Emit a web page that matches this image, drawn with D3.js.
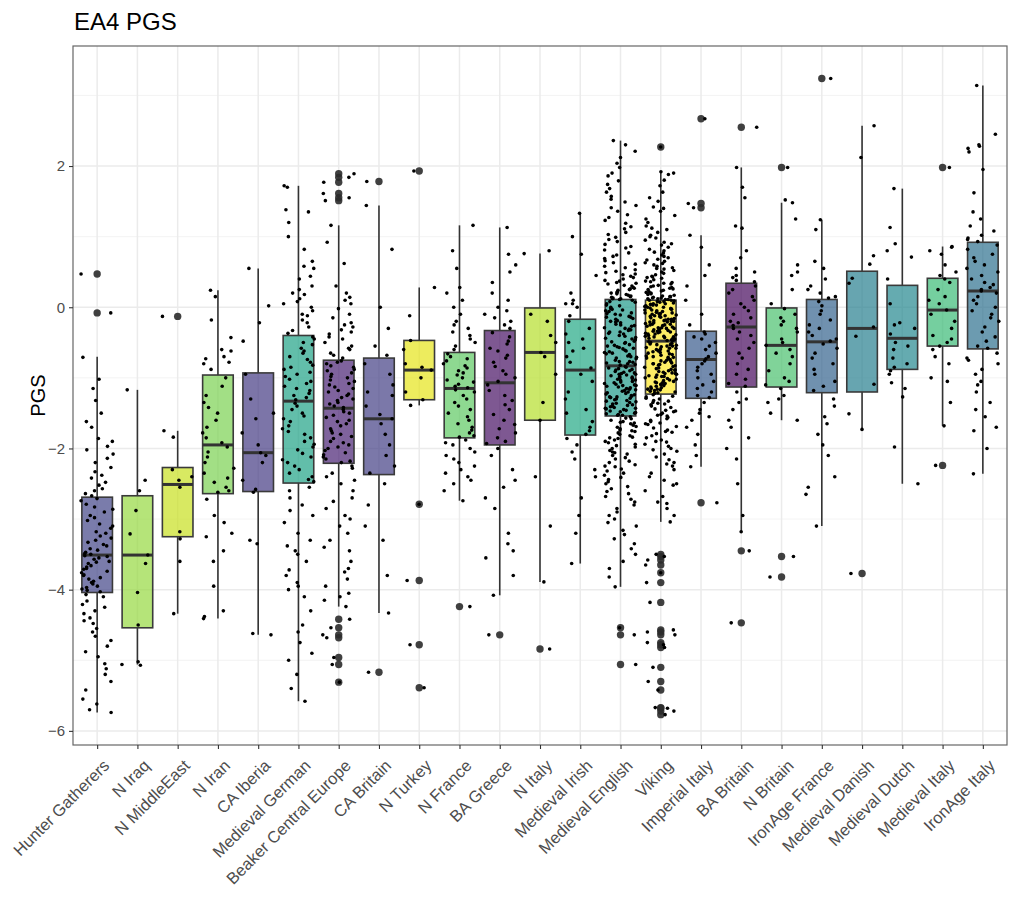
<!DOCTYPE html>
<html>
<head>
<meta charset="utf-8">
<script src="https://cdn.jsdelivr.net/npm/d3@7"></script>
<style>
  body { margin: 0; background: #fff; }
  text { font-family: "Liberation Sans", Arial, Helvetica, sans-serif; }
</style>
</head>
<body>
<div id="chart"></div>
<script>
// Groups in plotting order
const groups = ["Hunter Gatherers", "N Iraq", "N MiddleEast", "N Iran", "CA Iberia", "Medieval German",
  "Beaker Central Europe", "CA Britain", "N Turkey", "N France", "BA Greece", "N Italy", "Medieval Irish",
  "Medieval English", "Viking", "Imperial Italy", "BA Britain", "N Britain", "IronAge France",
  "Medieval Danish", "Medieval Dutch", "Medieval Italy", "IronAge Italy"];

// Box colours (viridis, drawn with alpha)
const boxColors = ["#414487", "#95d840", "#c8e020", "#7ad151", "#443a83", "#20a386", "#482173", "#433e85",
  "#e5e419", "#5ec962", "#471164", "#b5de2b", "#22a884", "#1f9a8a", "#fde725", "#375a8c", "#46085c",
  "#4ac16d", "#33638d", "#277f8e", "#24878e", "#3aba76", "#2d708e"];

// Box statistics
const upperHinge = [-2.69, -2.67, -2.27, -0.96, -0.93, -0.40, -0.75, -0.72, -0.47, -0.64, -0.33, -0.01, -0.17,
  0.11, 0.10, -0.34, 0.34, -0.01, 0.11, 0.51, 0.31, 0.41, 0.92];
const medians = [-3.51, -3.51, -2.51, -1.95, -2.06, -1.33, -1.43, -1.58, -0.89, -1.15, -1.07, -0.64, -0.89,
  -0.83, -0.48, -0.74, -0.28, -0.54, -0.49, -0.30, -0.44, -0.04, 0.23];
const lowerHinge = [-4.04, -4.54, -3.25, -2.64, -2.61, -2.49, -2.21, -2.37, -1.31, -1.85, -1.95, -1.60, -1.81,
  -1.54, -1.23, -1.29, -1.13, -1.13, -1.21, -1.20, -0.88, -0.55, -0.59];
const whiskerHigh = [-0.70, -1.17, -1.75, 0.24, 0.55, 1.72, 1.16, 1.44, 0.28, 1.16, 1.13, 0.76, 1.33,
  2.36, 1.92, 1.02, 1.98, 1.48, 1.24, 2.57, 1.68, 0.86, 3.14];
const whiskerLow = [-5.74, -5.06, -4.34, -4.41, -4.64, -5.58, -4.24, -4.33, -1.39, -2.74, -4.08, -3.89, -3.63,
  -3.96, -3.04, -2.26, -3.18, -1.60, -3.10, -1.71, -2.50, -1.68, -2.36];

// Outliers per group
const outliers = [
  [0.47, -0.08], [], [-0.13], [], [], [],
  [1.89, 1.84, 1.77, 1.61, 1.55, 1.51, -4.42, -4.54, -4.64, -4.68, -4.96, -5.06, -5.31],
  [1.78, -5.17], [1.93, -2.79, -3.87, -4.78, -5.39], [-4.24], [-4.64], [-4.84], [],
  [-4.54, -4.64, -5.06],
  [2.27, -3.5, -3.53, -3.58, -3.65, -3.76, -3.9, -4.18, -4.57, -4.6, -4.64, -4.75, -4.78, -4.82, -5.1, -5.3, -5.42, -5.67, -5.68, -5.72, -5.77],
  [2.67, 1.47, 1.41, -2.77], [2.55, -3.45, -4.47], [1.98, -3.53, -3.82], [3.24], [-3.77], [],
  [1.98, -2.24], []
];

// Individual PGS values (jittered points)
const hunterGatherers = [0.47, -0.08, -0.71, -1.02, -1.15, -1.32, -1.5, -1.62, -1.7, -1.86, -1.9, -1.97, -2.02, -2.08,
  -2.14, -2.2, -2.27, -2.33, -2.38, -2.42, -2.48, -2.52, -2.57, -2.6, -2.64, -2.67, -2.71, -2.74, -2.79, -2.83, -2.86,
  -2.9, -2.95, -2.98, -3.02, -3.07, -3.1, -3.13, -3.18, -3.2, -3.24, -3.27, -3.3, -3.33, -3.36, -3.38, -3.42, -3.44,
  -3.47, -3.49, -3.5, -3.52, -3.53, -3.55, -3.57, -3.6, -3.61, -3.63, -3.66, -3.68, -3.7, -3.71, -3.74, -3.76, -3.79,
  -3.8, -3.83, -3.85, -3.88, -3.9, -3.92, -3.95, -3.97, -3.99, -4.01, -4.03, -4.07, -4.1, -4.16, -4.21, -4.25, -4.3,
  -4.34, -4.4, -4.44, -4.48, -4.55, -4.6, -4.66, -4.72, -4.8, -4.88, -4.95, -5.05, -5.12, -5.2, -5.3, -5.42, -5.55,
  -5.62, -5.7, -5.74];
const nIraq = [-1.17, -2.45, -2.6, -2.88, -3.21, -3.51, -3.63, -4.04, -4.5, -5.02, -5.06, -5.07];
const nMiddleEast = [-0.13, -1.75, -1.84, -2.3, -2.4, -2.45, -2.55, -3.18, -3.28, -3.6, -4.34];
const nIran = [0.24, 0.15, -0.18, -0.43, -0.6, -0.62, -0.7, -0.73, -0.78, -0.8, -0.88, -1.0, -1.12, -1.25, -1.35, -1.42,
  -1.5, -1.6, -1.7, -1.78, -1.85, -1.92, -1.98, -2.05, -2.12, -2.2, -2.28, -2.35, -2.42, -2.48, -2.55, -2.6, -2.62,
  -2.72, -2.95, -3.05, -3.2, -3.25, -3.45, -3.6, -3.95, -4.3, -4.38, -4.41];
const caIberia = [0.55, 0.02, -0.22, -0.48, -0.95, -1.3, -1.5, -1.58, -1.78, -1.95, -2.06, -2.1, -2.2, -2.45, -2.58,
  -2.62, -3.3, -3.35, -4.62, -4.64];
const medievalGerman = [1.72, 1.7, 1.38, 1.35, 1.2, 1.0, 0.82, 0.65, 0.58, 0.55, 0.44, 0.4, 0.3, 0.25, 0.2, 0.18, 0.12,
  0.08, 0.05, 0.0, -0.05, -0.1, -0.12, -0.18, -0.22, -0.28, -0.33, -0.37, -0.42, -0.45, -0.5, -0.53, -0.58, -0.62,
  -0.65, -0.7, -0.74, -0.78, -0.82, -0.85, -0.88, -0.92, -0.95, -0.98, -1.02, -1.05, -1.08, -1.12, -1.15, -1.18,
  -1.22, -1.25, -1.28, -1.31, -1.36, -1.4, -1.45, -1.5, -1.54, -1.58, -1.62, -1.68, -1.72, -1.76, -1.8, -1.85, -1.9,
  -1.94, -1.98, -2.02, -2.07, -2.12, -2.16, -2.2, -2.25, -2.3, -2.35, -2.4, -2.44, -2.47, -2.55, -2.6, -2.7, -2.8,
  -2.88, -2.95, -3.05, -3.2, -3.3, -3.38, -3.45, -3.5, -3.6, -3.72, -3.8, -3.9, -3.95, -4.0, -4.1, -4.3, -4.5, -4.6,
  -4.75, -4.9, -5.0, -5.2, -5.4, -5.58];
const beakerCentralEurope = [1.89, 1.84, 1.77, 1.61, 1.55, 1.51, 1.16, 0.92, 0.62, 0.3, 0.2, 0.14, 0.1, 0.05, -0.02,
  -0.1, -0.15, -0.22, -0.25, -0.28, -0.32, -0.35, -0.38, -0.42, -0.45, -0.5, -0.55, -0.58, -0.6, -0.65, -0.68, -0.72,
  -0.76, -0.78, -0.8, -0.83, -0.85, -0.88, -0.9, -0.93, -0.95, -0.98, -1.0, -1.03, -1.05, -1.08, -1.1, -1.13, -1.15,
  -1.18, -1.2, -1.23, -1.25, -1.28, -1.3, -1.32, -1.35, -1.37, -1.4, -1.42, -1.45, -1.48, -1.5, -1.53, -1.56, -1.6,
  -1.62, -1.65, -1.68, -1.72, -1.75, -1.78, -1.8, -1.83, -1.86, -1.9, -1.92, -1.95, -1.98, -2.0, -2.03, -2.06, -2.09,
  -2.12, -2.15, -2.18, -2.2, -2.25, -2.28, -2.35, -2.4, -2.45, -2.5, -2.6, -2.7, -2.75, -2.85, -2.95, -3.0, -3.1,
  -3.2, -3.3, -3.4, -3.45, -3.6, -3.7, -3.75, -3.85, -3.95, -4.05, -4.1, -4.15, -4.24, -4.42, -4.54, -4.64, -4.68,
  -4.96, -5.06, -5.31];
const caBritain = [1.78, 1.44, 0.82, 0.0, -0.3, -0.55, -0.68, -0.8, -0.95, -1.1, -1.2, -1.25, -1.4, -1.52, -1.58,
  -1.65, -1.8, -1.95, -2.1, -2.25, -2.35, -2.5, -2.8, -3.1, -3.3, -3.8, -4.33, -5.17];
const nTurkey = [1.93, 0.28, -0.12, -0.47, -0.6, -0.8, -0.85, -0.89, -1.0, -1.2, -1.31, -1.39, -2.79, -3.87, -4.78, -5.39];
const nFrance = [1.16, 0.8, 0.55, 0.28, 0.2, 0.1, 0.0, -0.1, -0.2, -0.25, -0.3, -0.35, -0.4, -0.45, -0.5, -0.55,
  -0.6, -0.66, -0.7, -0.73, -0.76, -0.8, -0.83, -0.86, -0.9, -0.93, -0.96, -1.0, -1.03, -1.06, -1.09, -1.12, -1.14,
  -1.17, -1.2, -1.25, -1.3, -1.35, -1.4, -1.45, -1.5, -1.55, -1.6, -1.65, -1.7, -1.74, -1.78, -1.82, -1.84, -1.88,
  -1.92, -1.95, -2.0, -2.05, -2.1, -2.15, -2.2, -2.25, -2.3, -2.35, -2.4, -2.45, -2.5, -2.6, -2.74, -4.24];
const baGreece = [1.13, 0.75, 0.6, 0.5, 0.35, 0.2, 0.1, 0.0, -0.05, -0.1, -0.15, -0.2, -0.25, -0.3, -0.36, -0.42,
  -0.48, -0.52, -0.58, -0.62, -0.68, -0.72, -0.78, -0.84, -0.9, -0.95, -1.0, -1.05, -1.1, -1.18, -1.25, -1.32, -1.38,
  -1.45, -1.52, -1.6, -1.66, -1.72, -1.78, -1.85, -1.9, -1.93, -2.0, -2.1, -2.3, -2.45, -2.55, -2.7, -2.85, -3.2,
  -3.35, -3.45, -3.55, -3.8, -4.08, -4.64];
const nItaly = [0.8, 0.76, -0.1, -0.2, -0.4, -0.5, -0.64, -0.7, -0.95, -1.35, -1.6, -2.4, -3.1, -3.89, -4.84];
const medievalIrish = [1.33, 1.0, 0.75, 0.45, 0.2, 0.1, 0.05, 0.05, 0.0, -0.12, -0.2, -0.3, -0.38, -0.45, -0.5, -0.58,
  -0.62, -0.7, -0.78, -0.86, -0.95, -1.05, -1.2, -1.3, -1.45, -1.5, -1.62, -1.7, -1.75, -1.8, -1.86, -1.95, -2.05,
  -2.15, -2.3, -2.4, -2.7, -2.95, -3.2, -3.63];
const medievalEnglish = [2.36, 2.3, 2.21, 2.12, 2.04, 1.98, 1.9, 1.86, 1.79, 1.74, 1.68, 1.63, 1.57, 1.53, 1.49, 1.44,
  1.41, 1.36, 1.31, 1.27, 1.23, 1.19, 1.14, 1.11, 1.06, 1.03, 0.99, 0.96, 0.93, 0.89, 0.86, 0.84, 0.81, 0.77, 0.74,
  0.72, 0.69, 0.66, 0.63, 0.61, 0.58, 0.56, 0.53, 0.51, 0.49, 0.46, 0.44, 0.42, 0.4, 0.38, 0.37, 0.35, 0.33, 0.31,
  0.3, 0.28, 0.27, 0.25, 0.24, 0.22, 0.21, 0.2, 0.19, 0.18, 0.17, 0.16, 0.15, 0.14, 0.13, 0.12, 0.12, 0.11, 0.26,
  0.34, 0.47,
  0.1, 0.08, 0.07, 0.05, 0.03, 0.02, 0.0, -0.02, -0.03, -0.05, -0.06, -0.08, -0.1, -0.11, -0.13, -0.14, -0.16, -0.17,
  -0.19, -0.21, -0.22, -0.24, -0.25, -0.27, -0.29, -0.3, -0.32, -0.33, -0.35, -0.37, -0.38, -0.4, -0.41, -0.43,
  -0.45, -0.46, -0.48, -0.49, -0.51, -0.53, -0.54, -0.56, -0.57, -0.59, -0.61, -0.62, -0.64, -0.65, -0.67, -0.69,
  -0.7, -0.72, -0.73, -0.75, -0.77, -0.78, -0.8, -0.81, -0.82, -0.2, -0.35, -0.5, -0.66, -0.04, -0.44, -0.71, -0.26,
  -0.58, -0.14, -0.63, -0.77, -0.09, -0.31, -0.55, -0.79,
  -0.84, -0.85, -0.87, -0.88, -0.9, -0.91, -0.92, -0.94, -0.95, -0.96, -0.98, -0.99, -1.0, -1.02, -1.03, -1.04,
  -1.06, -1.07, -1.08, -1.1, -1.11, -1.12, -1.14, -1.15, -1.16, -1.18, -1.19, -1.2, -1.22, -1.23, -1.24, -1.26,
  -1.27, -1.28, -1.3, -1.31, -1.32, -1.34, -1.35, -1.36, -1.38, -1.39, -1.4, -1.42, -1.43, -1.44, -1.46, -1.47,
  -1.48, -1.5, -1.51, -1.52, -1.53, -0.93, -1.01, -1.09, -1.17, -1.25, -1.33, -1.41, -1.49, -0.89, -0.97, -1.05,
  -1.13, -1.21, -1.29, -1.37, -1.45, -0.86, -1.53, -1.11, -1.27, -1.43, -0.95,
  -1.55, -1.57, -1.58, -1.6, -1.62, -1.63, -1.65, -1.67, -1.69, -1.7, -1.72, -1.74, -1.76, -1.78, -1.8, -1.82,
  -1.84, -1.86, -1.88, -1.9, -1.92, -1.94, -1.96, -1.98, -2.0, -2.03, -2.05, -2.08, -2.1, -2.13, -2.15, -2.18, -2.2,
  -2.23, -2.26, -2.29, -2.32, -2.35, -2.38, -2.41, -2.44, -2.47, -2.5, -2.54, -2.57, -2.61, -2.64, -2.68, -2.72,
  -2.76, -2.8, -2.85, -2.9, -2.95, -3.0, -3.05, -3.1, -3.16, -3.22, -3.28, -3.35, -3.42, -3.5, -3.6, -3.7, -3.82,
  -3.96, -4.54, -4.64, -5.06, -1.64, -1.75, -1.85, -2.06, -2.25];
const viking = [2.27, 1.92, 1.9, 1.88, 1.8, 1.72, 1.63, 1.55, 1.5, 1.42, 1.36, 1.3, 1.25, 1.2, 1.15, 1.1, 1.06, 1.02,
  0.98, 0.95, 0.92, 0.88, 0.85, 0.82, 0.8, 0.77, 0.74, 0.72, 0.7, 0.67, 0.65, 0.63, 0.6, 0.58, 0.56, 0.54, 0.52, 0.5,
  0.48, 0.46, 0.44, 0.42, 0.41, 0.39, 0.37, 0.36, 0.34, 0.33, 0.31, 0.3, 0.29, 0.28, 0.26, 0.25, 0.24, 0.23, 0.22,
  0.21, 0.2, 0.19, 0.18, 0.17, 0.16, 0.15, 0.15, 0.14, 0.13, 0.13, 0.12, 0.12, 0.11, 0.11, 0.1, 0.1, 0.27, 0.35,
  0.43, 0.55, 0.62, 0.78, 0.9, 1.0, 1.12, 1.4, 0.68,
  0.09, 0.08, 0.08, 0.07, 0.06, 0.05, 0.05, 0.04, 0.03, 0.02, 0.01, 0.0, 0.0, -0.01, -0.02, -0.03, -0.04, -0.04,
  -0.05, -0.06, -0.07, -0.08, -0.08, -0.09, -0.1, -0.11, -0.12, -0.12, -0.13, -0.14, -0.15, -0.16, -0.17, -0.17,
  -0.18, -0.19, -0.2, -0.21, -0.21, -0.22, -0.23, -0.24, -0.25, -0.25, -0.26, -0.27, -0.28, -0.29, -0.3, -0.3,
  -0.31, -0.32, -0.33, -0.34, -0.34, -0.35, -0.36, -0.37, -0.38, -0.38, -0.39, -0.4, -0.41, -0.42, -0.42, -0.43,
  -0.44, -0.45, -0.46, -0.47, -0.47, -0.02, -0.07, -0.13, -0.19, -0.24, -0.29, -0.35, -0.41, -0.46, 0.03, -0.1,
  -0.2, -0.32, -0.44,
  -0.49, -0.5, -0.51, -0.52, -0.53, -0.54, -0.55, -0.55, -0.56, -0.57, -0.58, -0.59, -0.6, -0.61, -0.62, -0.63,
  -0.64, -0.65, -0.66, -0.67, -0.68, -0.69, -0.7, -0.71, -0.72, -0.73, -0.74, -0.75, -0.76, -0.77, -0.78, -0.79,
  -0.8, -0.81, -0.82, -0.83, -0.84, -0.85, -0.86, -0.87, -0.88, -0.89, -0.9, -0.91, -0.92, -0.93, -0.94, -0.95,
  -0.96, -0.97, -0.98, -0.99, -1.0, -1.01, -1.02, -1.03, -1.04, -1.05, -1.06, -1.07, -1.08, -1.09, -1.1, -1.11,
  -1.12, -1.13, -1.14, -1.15, -1.16, -1.17, -1.18, -1.19, -1.2, -1.21, -1.22, -0.53, -0.62, -0.71, -0.8, -0.89,
  -0.98, -1.07, -1.16, -0.58, -0.94,
  -1.24, -1.26, -1.27, -1.29, -1.3, -1.32, -1.33, -1.35, -1.37, -1.38, -1.4, -1.42, -1.44, -1.46, -1.48, -1.5,
  -1.52, -1.54, -1.56, -1.58, -1.6, -1.62, -1.64, -1.66, -1.69, -1.71, -1.74, -1.76, -1.79, -1.82, -1.85, -1.88,
  -1.91, -1.94, -1.97, -2.0, -2.04, -2.08, -2.12, -2.16, -2.2, -2.25, -2.3, -2.35, -2.4, -2.45, -2.52, -2.6, -2.68,
  -2.76, -2.85, -2.95, -3.04, -3.5, -3.53, -3.58, -3.65, -3.76, -3.9, -4.18, -4.57, -4.6, -4.64, -4.75, -4.78,
  -4.82, -5.1, -5.3, -5.42, -5.67, -5.68, -5.72, -5.77, -1.36, -1.47, -1.53, -1.65, -1.77, -1.9, -2.02, -2.22, -2.5,
  -2.78];
const imperialItaly = [2.67, 1.47, 1.41, 1.02, 0.85, 0.6, 0.45, 0.3, 0.1, -0.1, -0.25, -0.35, -0.38, -0.42, -0.45,
  -0.5, -0.55, -0.6, -0.65, -0.7, -0.73, -0.76, -0.8, -0.85, -0.9, -0.95, -1.0, -1.05, -1.1, -1.15, -1.2, -1.25,
  -1.28, -1.35, -1.45, -1.5, -1.55, -1.6, -1.7, -1.8, -1.95, -2.1, -2.26, -2.77];
const baBritain = [2.55, 1.98, 1.7, 1.55, 1.15, 1.12, 0.8, 0.7, 0.55, 0.5, 0.45, 0.42, 0.38, 0.36, 0.3, 0.25, 0.2,
  0.15, 0.1, 0.05, 0.0, -0.05, -0.1, -0.15, -0.2, -0.22, -0.26, -0.3, -0.35, -0.4, -0.45, -0.5, -0.58, -0.65, -0.72,
  -0.8, -0.88, -0.95, -1.02, -1.08, -1.12, -1.2, -1.3, -1.35, -1.45, -1.6, -1.7, -1.85, -2.0, -2.15, -2.5, -2.95,
  -3.18, -3.45, -4.47];
const nBritain = [1.98, 1.52, 1.48, 1.25, 0.6, 0.5, 0.45, 0.25, 0.05, -0.02, -0.1, -0.15, -0.2, -0.25, -0.3, -0.35,
  -0.45, -0.5, -0.54, -0.6, -0.65, -0.7, -0.8, -0.9, -1.0, -1.05, -1.1, -1.15, -1.25, -1.3, -1.35, -1.5, -1.6, -3.53,
  -3.82];
const ironAgeFrance = [3.24, 1.24, 1.1, 0.65, 0.55, 0.4, 0.3, 0.25, 0.2, 0.15, 0.13, 0.08, 0.02, -0.05, -0.1, -0.18,
  -0.25, -0.3, -0.35, -0.4, -0.45, -0.48, -0.52, -0.58, -0.65, -0.72, -0.8, -0.88, -0.95, -1.05, -1.12, -1.18, -1.3,
  -1.4, -1.55, -1.65, -1.8, -1.95, -2.1, -2.4, -2.55, -2.65, -3.1];
const medievalDanish = [2.57, 2.12, 0.73, 0.61, 0.41, 0.34, -0.28, -0.41, -1.09, -1.51, -1.73, -3.77];
const medievalDutch = [1.68, 1.13, 0.9, 0.8, 0.71, 0.4, 0.05, -0.22, -0.25, -0.3, -0.38, -0.5, -0.55, -0.6, -0.72,
  -0.8, -0.85, -0.9, -0.95, -1.07, -1.15, -1.27, -1.98, -2.5];
const medievalItaly = [1.98, 0.86, 0.85, 0.8, 0.75, 0.6, 0.5, 0.45, 0.4, 0.35, 0.25, 0.15, 0.1, 0.05, -0.04, -0.1,
  -0.2, -0.3, -0.4, -0.45, -0.5, -0.55, -0.6, -0.7, -0.8, -1.0, -1.05, -1.35, -1.68, -2.24];
const ironAgeItaly = [3.14, 2.45, 2.3, 2.28, 2.25, 2.2, 1.95, 1.62, 1.35, 1.25, 1.15, 1.08, 1.02, 0.98, 0.96, 0.93,
  0.88, 0.82, 0.75, 0.7, 0.65, 0.6, 0.55, 0.5, 0.45, 0.4, 0.35, 0.32, 0.28, 0.25, 0.23, 0.2, 0.15, 0.1, 0.05, 0.0,
  -0.05, -0.1, -0.15, -0.2, -0.28, -0.35, -0.42, -0.48, -0.55, -0.58, -0.65, -0.72, -0.75, -0.8, -0.88, -0.95,
  -1.05, -1.1, -1.2, -1.35, -1.45, -1.55, -1.7, -1.75, -2.0, -2.36];

const groupPoints = [hunterGatherers, nIraq, nMiddleEast, nIran, caIberia, medievalGerman, beakerCentralEurope,
  caBritain, nTurkey, nFrance, baGreece, nItaly, medievalIrish, medievalEnglish, viking, imperialItaly, baBritain,
  nBritain, ironAgeFrance, medievalDanish, medievalDutch, medievalItaly, ironAgeItaly];

const yMajor = [-6, -4, -2, 0, 2];
const yMinor = [-5, -3, -1, 1, 3];

const width = 1014, height = 899;
const margin = {top: 46, right: 7, bottom: 154, left: 73};

let svg = d3.select("#chart")
    .append("svg")
    .attr("width", width)
    .attr("height", height);

// Discrete x positions, ggplot-like expansion of 0.6 steps
let x = d3.scalePoint()
    .domain(groups)
    .range([margin.left, width - margin.right])
    .padding(0.6);

let y = d3.scaleLinear()
    .domain([-6.2, 3.7])
    .range([height - margin.bottom, margin.top]);

let step = x.step();
let boxW = step * 0.76;

// Grid lines
let grid = svg.append("g");
grid.selectAll(".minor").data(yMinor).enter().append("line")
    .attr("x1", margin.left).attr("x2", width - margin.right)
    .attr("y1", d => y(d)).attr("y2", d => y(d))
    .attr("stroke", "#f0f0f0").attr("stroke-width", 0.8);
grid.selectAll(".major").data(yMajor).enter().append("line")
    .attr("x1", margin.left).attr("x2", width - margin.right)
    .attr("y1", d => y(d)).attr("y2", d => y(d))
    .attr("stroke", "#ebebeb").attr("stroke-width", 1.5);
grid.selectAll(".vert").data(groups).enter().append("line")
    .attr("x1", d => x(d)).attr("x2", d => x(d))
    .attr("y1", margin.top).attr("y2", height - margin.bottom)
    .attr("stroke", "#ebebeb").attr("stroke-width", 1.5);

// Boxplots
let boxes = svg.append("g").selectAll("g").data(groups).enter().append("g");

boxes.append("line")
    .attr("x1", d => x(d)).attr("x2", d => x(d))
    .attr("y1", (d, i) => y(whiskerHigh[i])).attr("y2", (d, i) => y(upperHinge[i]))
    .attr("stroke", "#333").attr("stroke-width", 1.6);
boxes.append("line")
    .attr("x1", d => x(d)).attr("x2", d => x(d))
    .attr("y1", (d, i) => y(lowerHinge[i])).attr("y2", (d, i) => y(whiskerLow[i]))
    .attr("stroke", "#333").attr("stroke-width", 1.6);
boxes.append("rect")
    .attr("x", d => x(d) - boxW / 2)
    .attr("width", boxW)
    .attr("y", (d, i) => y(upperHinge[i]))
    .attr("height", (d, i) => y(lowerHinge[i]) - y(upperHinge[i]))
    .attr("fill", (d, i) => boxColors[i])
    .attr("fill-opacity", 0.7)
    .attr("stroke", "#3a3a3a").attr("stroke-width", 1.6);
boxes.append("line")
    .attr("x1", d => x(d) - boxW / 2).attr("x2", d => x(d) + boxW / 2)
    .attr("y1", (d, i) => y(medians[i])).attr("y2", (d, i) => y(medians[i]))
    .attr("stroke", "#333").attr("stroke-width", 3);

// Outlier dots of the boxplot
boxes.each(function(d, i) {
    d3.select(this).selectAll("circle").data(outliers[i]).enter().append("circle")
        .attr("cx", x(d))
        .attr("cy", v => y(v))
        .attr("r", 3.7)
        .attr("fill", "#2b2b2b")
        .attr("fill-opacity", 0.9);
});

// Deterministic jitter offset in [-0.5, 0.5)
function jitter(i, g) {
    let s = Math.sin(i * 12.9898 + g * 78.233) * 43758.5453;
    return s - Math.floor(s) - 0.5;
}

// Jittered points
let pts = svg.append("g");
groupPoints.forEach(function(vals, g) {
    pts.selectAll(null).data(vals).enter().append("circle")
        .attr("cx", (v, i) => x(groups[g]) + jitter(i, g) * step * 0.8)
        .attr("cy", v => y(v))
        .attr("r", 1.8)
        .attr("fill", "#000");
});

// Panel border
svg.append("rect")
    .attr("x", margin.left).attr("y", margin.top)
    .attr("width", width - margin.left - margin.right)
    .attr("height", height - margin.top - margin.bottom)
    .attr("fill", "none").attr("stroke", "#666").attr("stroke-width", 1.2);

// Y axis
let yAxis = svg.append("g")
    .attr("transform", `translate(${margin.left}, 0)`)
    .call(d3.axisLeft(y).tickValues(yMajor).tickSize(4).tickPadding(4).tickFormat(d3.format("d")));
yAxis.select(".domain").remove();
yAxis.selectAll(".tick line").attr("stroke", "#333").attr("stroke-width", 1.1);
yAxis.selectAll(".tick text").attr("fill", "#4d4d4d").style("font-size", "15px")
    .style("font-family", "'Liberation Sans', Arial, sans-serif");

// X axis with rotated labels
let xAxis = svg.append("g")
    .attr("transform", `translate(0, ${height - margin.bottom})`)
    .call(d3.axisBottom(x).tickSize(4));
xAxis.select(".domain").remove();
xAxis.selectAll(".tick line").attr("stroke", "#333").attr("stroke-width", 1.1);
xAxis.selectAll(".tick text")
    .attr("x", 0).attr("y", 0).attr("dy", "0.75em")
    .attr("transform", "translate(4, 13) rotate(-45)")
    .style("text-anchor", "end")
    .style("font-size", "16.5px")
    .style("font-family", "'Liberation Sans', Arial, sans-serif")
    .attr("fill", "#4d4d4d");

// Y axis title
svg.append("text")
    .attr("transform", `translate(45, ${(margin.top + height - margin.bottom) / 2}) rotate(-90)`)
    .style("text-anchor", "middle")
    .style("font-size", "20px")
    .attr("fill", "#000")
    .text("PGS");

// Chart title
svg.append("text")
    .attr("x", 74).attr("y", 30)
    .style("font-size", "24px")
    .attr("fill", "#000")
    .text("EA4 PGS");
</script>
</body>
</html>
